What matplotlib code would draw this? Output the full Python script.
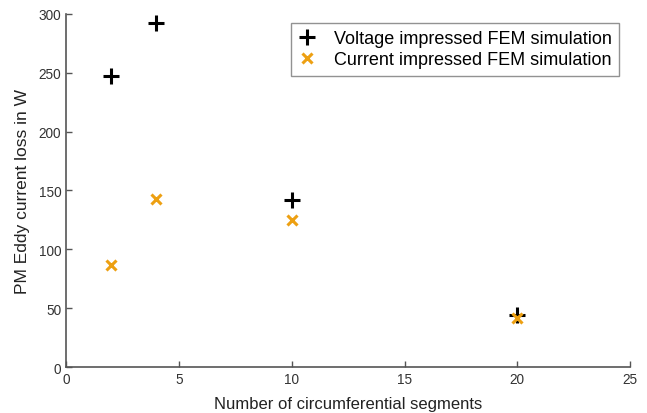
import matplotlib
matplotlib.use("Agg")
import matplotlib.pyplot as plt

plt.rcParams['font.family'] = ['Liberation Sans', 'DejaVu Sans']

segments = [2, 4, 10, 20]
voltage_loss = [247, 292, 142, 44]
current_loss = [87, 143, 125, 42]

fig = plt.figure(figsize=(6.47, 4.14), dpi=100)
ax = fig.add_axes([0.102, 0.111, 0.872, 0.853])

ax.plot(segments, voltage_loss, linestyle='none', marker='+', color='black',
        markersize=12, markeredgewidth=2.2, label='Voltage impressed FEM simulation')
ax.plot(segments, current_loss, linestyle='none', marker='x', color='#EDA012',
        markersize=7, markeredgewidth=2.2, label='Current impressed FEM simulation')

ax.set_xlim(0, 25)
ax.set_ylim(0, 300)
ax.set_xticks([0, 5, 10, 15, 20, 25])
ax.set_yticks([0, 50, 100, 150, 200, 250, 300])
for s in ['top', 'right']:
    ax.spines[s].set_visible(False)
for s in ['left', 'bottom']:
    ax.spines[s].set_color('#555555')
    ax.spines[s].set_linewidth(1.2)
ax.tick_params(direction='in', length=4, width=1, colors='#555555',
               labelcolor='#333333', labelsize=9.8)
ax.set_xlabel('Number of circumferential segments', fontsize=12, color='#222222', labelpad=7)
ax.set_ylabel('PM Eddy current loss in W', fontsize=12.5, color='#222222', labelpad=6)

leg = ax.legend(loc='upper right', bbox_to_anchor=(0.981, 0.975), fontsize=13,
                frameon=True, fancybox=False, edgecolor='#777777',
                handlelength=1.0, handletextpad=1.0, borderpad=0.4, labelspacing=0.25,
                borderaxespad=0.0)
leg.get_frame().set_linewidth(1.0)

fig.savefig('out.png', dpi=100)
